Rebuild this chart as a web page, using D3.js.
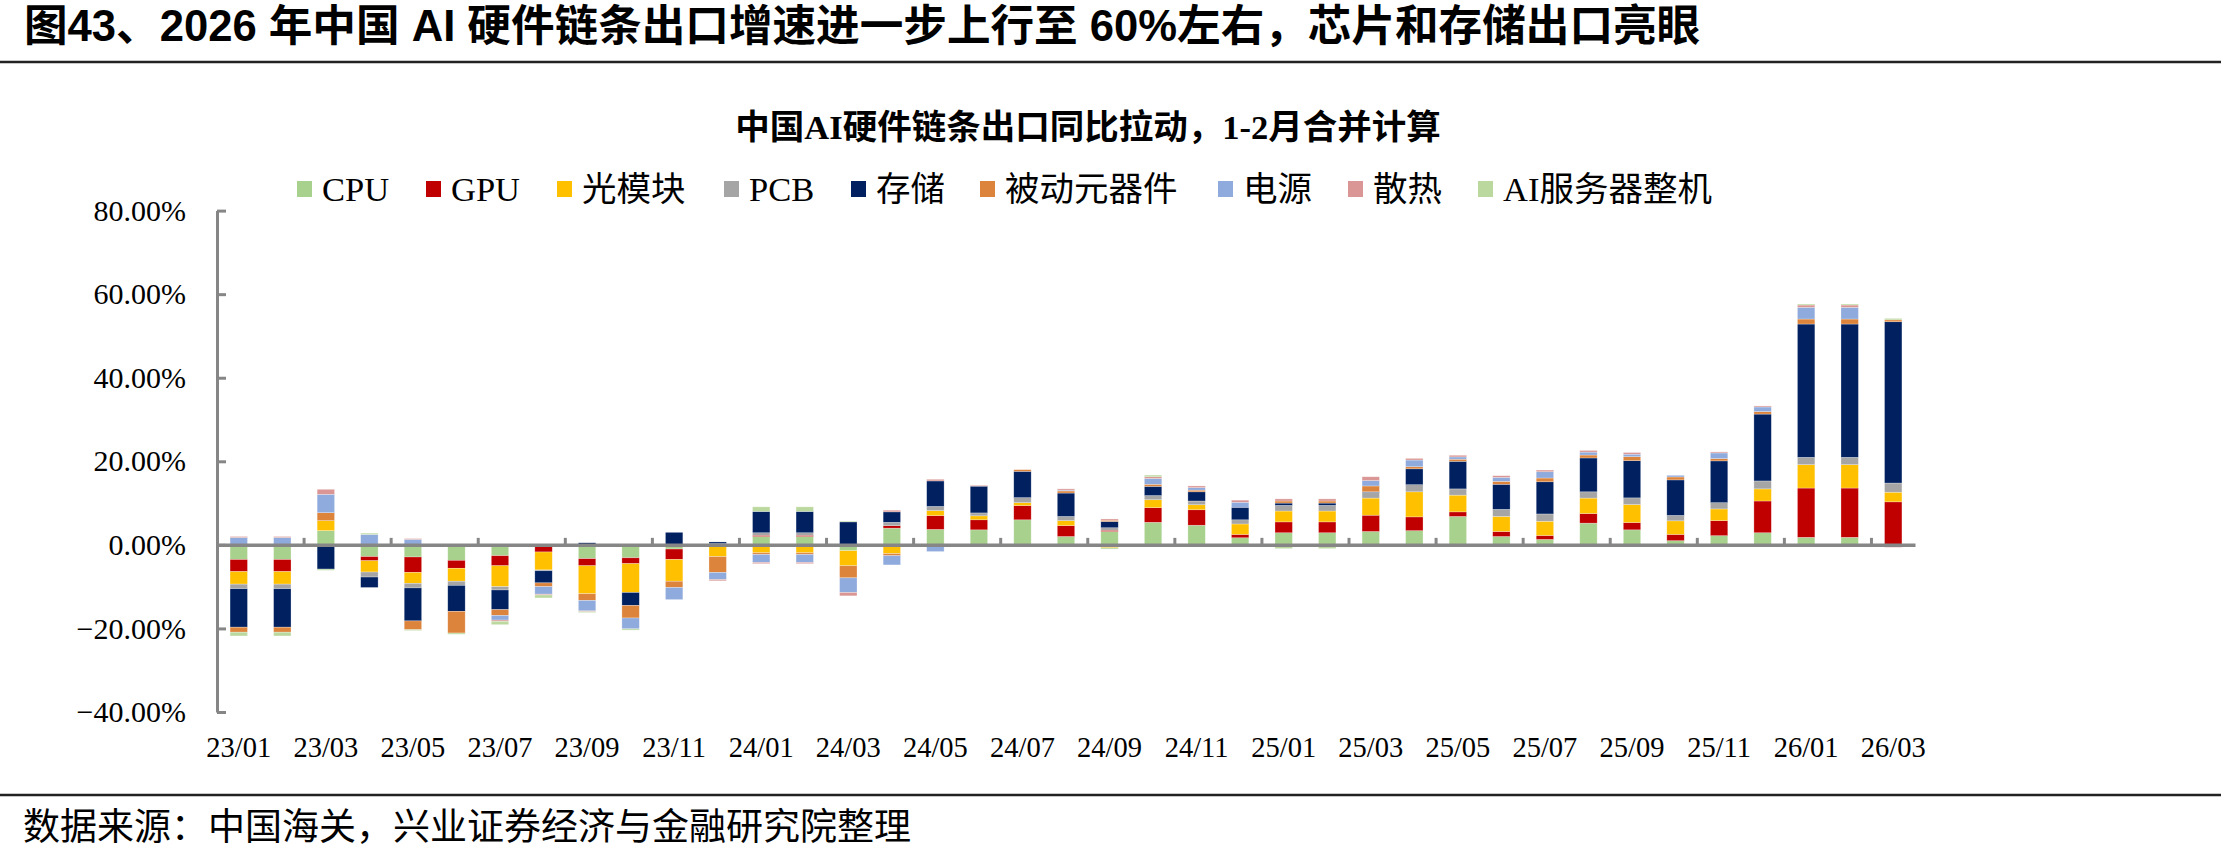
<!DOCTYPE html>
<html><head><meta charset="utf-8">
<script src="https://cdn.jsdelivr.net/npm/d3@7/dist/d3.min.js"></script>
<style>
html,body{margin:0;padding:0;background:#fff;}
svg{display:block;}
</style></head>
<body>
<svg id="chart" width="2221" height="857"></svg>
<script>
const months = ["23/01","23/02","23/03","23/04","23/05","23/06","23/07","23/08","23/09","23/10","23/11","23/12",
"24/01","24/02","24/03","24/04","24/05","24/06","24/07","24/08","24/09","24/10","24/11","24/12",
"25/01","25/02","25/03","25/04","25/05","25/06","25/07","25/08","25/09","25/10","25/11","25/12",
"26/01","26/02","26/03"];
const seriesNames = ["CPU","GPU","光模块","PCB","存储","被动元器件","电源","散热","AI服务器整机"];
const seriesColors = ["#A9D18E","#C00000","#FFC000","#A5A5A5","#002060","#DD843C","#8FAADC","#D99694","#BBD89F"];
const cpu   = [-3.5,-3.5,3.4,-2.8,-2.9,-3.7,-2.6,0,-3.3,-3.1,-1.0,0,2.0,2.0,-1.4,4.0,3.7,3.6,6.0,2.0,3.2,5.4,4.7,1.7,2.9,2.9,3.2,3.4,6.8,2.0,1.3,5.2,3.6,1.0,2.2,2.9,1.8,1.8,-0.2];
const gpu   = [-2.9,-2.9,-0.3,-1.0,-3.7,-1.9,-2.4,-1.7,-1.7,-1.4,-2.5,0,0.3,0.3,0,0.6,3.3,2.4,3.4,2.6,0.3,3.5,3.7,0.8,2.6,2.6,3.9,3.3,1.1,1.2,0.95,2.3,1.75,1.5,3.6,7.6,11.8,11.8,10.3];
const optical = [-3.0,-3.0,2.4,-2.7,-2.6,-3.1,-5.0,-4.3,-6.7,-6.9,-5.2,-2.8,-1.9,-1.9,-3.6,-2.1,1.2,0.95,0.7,1.2,-0.7,1.9,1.2,2.5,2.6,2.6,4.1,6.0,4.0,3.6,3.4,3.7,4.3,3.25,2.8,2.9,5.6,5.6,2.3];
const pcb   = [-1.1,-1.1,0,-1.2,-1.1,-1.0,-0.8,-0.2,0,0,0,0.3,0.6,0.6,0,0.8,1.0,0.7,1.2,1.0,0.6,1.0,0.9,1.0,1.35,1.35,1.35,1.7,1.5,1.7,1.75,1.5,1.6,1.3,1.5,1.9,1.75,1.75,2.2];
const storage = [-9.2,-9.2,-5.5,-2.5,-7.9,-6.2,-4.7,-2.9,0.5,-3.1,3.0,0.4,5.1,5.1,5.5,2.5,6.1,6.4,6.3,5.6,1.5,2.2,2.2,3.0,0.55,0.55,0.15,3.8,6.6,6.0,7.7,8.1,8.9,8.5,10.0,16.0,31.9,31.9,38.6];
const passive = [-1.2,-1.2,1.9,0,-2.1,-5.2,-1.4,-0.9,-1.6,-3.0,-1.5,-3.8,-0.4,-0.4,-2.9,-0.5,0,0,0.4,0.5,0.3,0.5,0.4,0,0.5,0.5,1.4,0.5,0.5,0.7,0.9,0.7,0.95,0.7,0.55,0.6,1.2,1.2,0.45];
const power = [1.75,1.75,4.4,2.5,1.3,0,-1.1,-1.8,-2.5,-2.6,-2.9,-1.7,-1.9,-1.9,-3.5,-2.2,-1.6,0,0,0.2,0,1.4,0.6,1.2,0,0,1.3,1.6,0.55,0.95,1.5,0.7,0.6,0.4,1.35,1.1,2.8,2.8,0];
const cooling = [0.25,0.25,1.2,0,0.2,0,-0.3,-0.2,-0.2,0,0,-0.3,-0.3,-0.3,-0.8,0.4,0.4,0.2,0,0.3,0.3,0.4,0.4,0.5,0.5,0.5,0.9,0.4,0.4,0.4,0.4,0.4,0.4,0,0.25,0.25,0.55,0.55,-0.4];
const aiServer = [-0.9,-0.9,-0.3,0.3,-0.2,-0.3,-0.8,-0.7,-0.2,-0.3,0,0,1.1,1.1,0.2,0,0,-0.5,0,0,-0.3,0.4,0,0,-0.9,-0.9,-0.5,0,0,0,0,0,-0.5,-0.5,0,0,0.25,0.25,0.35];
const yTicks = [-40,-20,0,20,40,60,80];
const xLabelMonths = months.filter((m,i)=>i%2===0);

const allSeries = [cpu,gpu,optical,pcb,storage,passive,power,cooling,aiServer];
const rows = months.map((m,i)=>{const r={month:m}; seriesNames.forEach((s,j)=>r[s]=allSeries[j][i]); return r;});

const svg = d3.select("#chart");
const serif = "'Liberation Serif','Times New Roman','Noto Sans CJK SC',serif";

// Header
svg.append("text").attr("x",24).attr("y",26).attr("dominant-baseline","central")
  .attr("font-family","'Liberation Sans','Noto Sans CJK SC',sans-serif").attr("font-weight","bold")
  .attr("font-size",43.6).attr("fill","#000")
  .text("图43、2026 年中国 AI 硬件链条出口增速进一步上行至 60%左右，芯片和存储出口亮眼");
svg.append("line").attr("x1",0).attr("x2",2221).attr("y1",62).attr("y2",62).attr("stroke","#222").attr("stroke-width",2.5);
svg.append("line").attr("x1",0).attr("x2",2221).attr("y1",795).attr("y2",795).attr("stroke","#222").attr("stroke-width",2.5);
svg.append("text").attr("x",23).attr("y",824).attr("dominant-baseline","central")
  .attr("font-family","'Noto Sans CJK SC',sans-serif").attr("font-size",37).attr("fill","#000")
  .text("数据来源：中国海关，兴业证券经济与金融研究院整理");

// Chart title
svg.append("text").attr("x",1088).attr("y",127).attr("text-anchor","middle").attr("dominant-baseline","central")
  .attr("font-family",serif).attr("font-weight","bold").attr("font-size",34.5).attr("fill","#000")
  .text("中国AI硬件链条出口同比拉动，1-2月合并计算");

// Scales
const x = d3.scaleBand().domain(months).range([217,1915]).paddingInner(0.6).paddingOuter(0.3);
const y = d3.scaleLinear().domain([-40,80]).range([712,210.6]);

// Bars
const stack = d3.stack().keys(seriesNames).offset(d3.stackOffsetDiverging);
const stacked = stack(rows);
const g = svg.append("g");
stacked.forEach((layer,j)=>{
  g.selectAll(null).data(layer).join("rect")
    .attr("x",d=>x(d.data.month))
    .attr("width",x.bandwidth())
    .attr("y",d=>y(Math.max(d[0],d[1])))
    .attr("height",d=>Math.abs(y(d[0])-y(d[1])))
    .attr("fill",seriesColors[j])
    .attr("stroke","#ffffff").attr("stroke-opacity",0.45).attr("stroke-width",0.6);
});

// Y axis
const yAxis = d3.axisLeft(y).tickValues(yTicks).tickSizeInner(-9).tickSizeOuter(0)
  .tickFormat(d=>d3.format(".2f")(d)+"%").tickPadding(31);
const ya = svg.append("g").attr("transform","translate(217,0)").call(yAxis);
ya.select(".domain").attr("stroke","#868686").attr("stroke-width",3);
ya.selectAll(".tick line").attr("stroke","#868686").attr("stroke-width",3);
ya.selectAll(".tick text").attr("font-family",serif).attr("font-size",30).attr("fill","#000");

// X axis at zero
const xAxis = d3.axisBottom(x).tickValues([]).tickSizeOuter(0);
const xa = svg.append("g").attr("transform",`translate(0,${y(0)})`).call(xAxis);
xa.select(".domain").attr("stroke","#868686").attr("stroke-width",3.5);
const boundaryMonths = months.filter((m,i)=>i>0 && i%2===0);
xa.selectAll(".bt").data(boundaryMonths).join("line")
  .attr("x1",d=>x(d)-x.step()*x.paddingInner()/2).attr("x2",d=>x(d)-x.step()*x.paddingInner()/2)
  .attr("y1",0).attr("y2",-7).attr("stroke","#868686").attr("stroke-width",3);
svg.append("g").selectAll("text").data(xLabelMonths).join("text")
  .attr("x",d=>x(d)+x.bandwidth()/2).attr("y",747)
  .attr("text-anchor","middle").attr("dominant-baseline","central")
  .attr("font-family",serif).attr("font-size",28.5).attr("fill","#000").text(d=>d);

// Legend
const legendX = [297,426,557,724,851,980,1218,1348,1478];
const lg = svg.append("g");
seriesNames.forEach((s,j)=>{
  lg.append("rect").attr("x",legendX[j]).attr("y",181).attr("width",15).attr("height",16).attr("fill",seriesColors[j]);
  lg.append("text").attr("x",legendX[j]+25).attr("y",189).attr("dominant-baseline","central")
    .attr("font-family",serif).attr("font-size",34.5).attr("fill","#000").text(s);
});
</script>
</body></html>
